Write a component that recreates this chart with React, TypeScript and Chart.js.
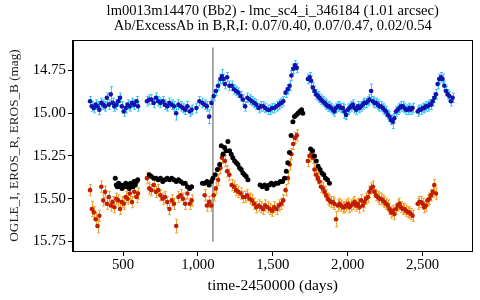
import React, { useEffect, useRef } from "react";
import { Chart, registerables } from "chart.js";

Chart.register(...registerables);

const SERIF = "'Liberation Serif', 'Times New Roman', serif";

const TITLE = [
  "lm0013m14470 (Bb2) - lmc_sc4_i_346184 (1.01 arcsec)",
  "Ab/ExcessAb in B,R,I: 0.07/0.40, 0.07/0.47, 0.02/0.54",
];
const X_TITLE = "time-2450000 (days)";
const Y_TITLE = "OGLE_I, EROS_R, EROS_B (mag)";

const X_MIN = 166;
const X_MAX = 2833;
const Y_MIN = 14.572;
const Y_MAX = 15.806;
const X_TICKS = [500, 1000, 1500, 2000, 2500];
const Y_TICKS = [14.75, 15.0, 15.25, 15.5, 15.75];

// vertical marker line (time, top mag, bottom mag)
const MARK_T = 1100;
const MARK_Y = [14.617, 15.75];

// EROS epochs (shared by B and R)
const erosT = [
  // season 1
  280, 292, 305, 318, 330, 342, 355, 368, 380, 392, 405, 418, 430, 442, 455, 468, 480, 492, 505, 518, 530, 545, 560, 575, 590, 600,
  // season 2
  660, 675, 690, 705, 720, 735, 750, 765, 780, 795, 810, 825, 840, 855, 870, 885, 900, 915, 930, 945, 958,
  // season 3
  990, 1010, 1030, 1045, 1060, 1075, 1090, 1105, 1120, 1135, 1150, 1160, 1170, 1180, 1195, 1210, 1225, 1240, 1255, 1270,
  1285, 1300, 1315, 1330, 1345, 1360, 1375, 1390, 1405, 1420, 1435, 1450, 1465, 1480, 1495, 1510, 1525, 1540, 1555, 1570,
  1585, 1600, 1612, 1624, 1636, 1648, 1660,
  // season 4+
  1734, 1745, 1756, 1767, 1778, 1789, 1800, 1811, 1822, 1833,
  1845, 1856, 1867, 1878, 1889, 1900, 1911, 1922, 1933, 1945,
  1956, 1967, 1978, 1989, 2000, 2011, 2022, 2034, 2045, 2056,
  2067, 2078, 2089, 2100, 2111, 2122, 2134, 2145, 2156, 2167,
  2178, 2189, 2200, 2211, 2222, 2234, 2245, 2256, 2267, 2278,
  2289, 2300, 2311, 2322, 2333, 2345, 2356, 2367, 2378, 2389,
  2400, 2411, 2422, 2433, 2467, 2478, 2489, 2500, 2511, 2522,
  2533, 2545, 2556, 2567, 2578, 2589, 2600, 2611, 2622, 2633,
  2645, 2656, 2667, 2678, 2689, 2700,
];

const erosB = [
  14.93, 14.96, 14.97, 14.95, 14.96, 14.98, 14.94, 14.95, 14.96, 14.91, 14.95, 14.89, 14.94, 14.96, 14.95, 14.93, 14.91, 14.96, 14.99, 14.97, 14.95, 14.96, 14.94, 14.95, 14.93, 14.96,
  14.93, 14.92, 14.92, 14.94, 14.91, 14.93, 14.94, 14.93, 14.95, 14.96, 14.94, 14.95, 14.96, 15.0, 14.95, 14.96, 14.97, 14.98, 14.96, 14.99, 14.98,
  14.97, 14.93, 14.94, 14.95, 14.96, 15.02, 14.94, 14.9, 14.87, 14.84, 14.8, 14.785, 14.8, 14.83, 14.79, 14.84, 14.84, 14.86, 14.87, 14.88,
  14.9, 14.92, 14.96, 14.91, 14.92, 14.93, 14.94, 14.95, 14.97, 14.96, 14.96, 14.97, 14.98, 14.98, 14.97, 14.97, 14.96, 14.95, 14.94, 14.93,
  14.88, 14.86, 14.84, 14.78, 14.74, 14.72, 14.735,
  14.8, 14.79, 14.81, 14.85, 14.87, 14.89, 14.9, 14.91, 14.92, 14.93,
  14.94, 14.95, 14.96, 14.96, 14.97, 14.98, 14.99, 14.97, 14.96, 14.96,
  14.97, 14.97, 14.99, 15.01, 14.98, 14.97, 14.96, 14.95, 14.97, 14.98,
  14.96, 14.97, 14.96, 14.95, 14.94, 14.94, 14.93, 14.92, 14.87, 14.93,
  14.94, 14.94, 14.95, 14.96, 14.96, 14.97, 14.98, 14.99, 15.01, 15.02,
  15.04, 15.05, 15.03, 14.99, 14.98, 14.97, 14.96, 14.96, 14.97, 14.98,
  14.98, 14.97, 14.98, 14.97, 14.99, 14.98, 14.98, 14.97, 14.97, 14.96,
  14.96, 14.95, 14.95, 14.93, 14.91, 14.89, 14.83, 14.8, 14.79, 14.8,
  14.84, 14.87, 14.89, 14.9, 14.93, 14.91,
];

const erosR = [
  15.45, 15.56, 15.58, 15.62, 15.66, 15.6, 15.43, 15.51, 15.46, 15.53, 15.49, 15.54, 15.52, 15.55, 15.5, 15.51, 15.56, 15.52, 15.53, 15.49, 15.5, 15.47, 15.52, 15.46, 15.49, 15.47,
  15.38, 15.44, 15.45, 15.42, 15.46, 15.45, 15.48, 15.5, 15.49, 15.52, 15.56, 15.51, 15.53, 15.66, 15.49, 15.48, 15.5, 15.53, 15.47, 15.53, 15.51,
  null, null, null, 15.48, 15.54, 15.52, 15.54, 15.48, 15.44, 15.39, 15.32, 15.26, 15.24, 15.28, 15.34, 15.36, 15.42, 15.43, 15.45, 15.46,
  15.47, 15.49, 15.49, 15.48, 15.5, 15.51, 15.53, 15.55, 15.54, 15.55, 15.56, 15.54, 15.55, 15.56, 15.57, 15.55, 15.56, 15.54, 15.53, 15.51,
  15.45, 15.38, 15.3, 15.24, 15.18, 15.145, 15.13,
  15.28, 15.25, 15.24, 15.26, 15.33, 15.36, 15.38, 15.4, 15.43, 15.44,
  15.46, 15.48, 15.5, 15.51, 15.52, 15.52, 15.53, 15.62, 15.54, 15.53,
  15.54, 15.55, 15.55, 15.54, 15.53, 15.55, 15.54, 15.53, 15.52, 15.54,
  15.53, 15.55, 15.51, 15.54, 15.52, 15.5, 15.49, 15.46, 15.44, 15.43,
  15.46, 15.48, 15.49, 15.5, 15.5, 15.51, 15.52, 15.53, 15.54, 15.56,
  15.58, 15.57, 15.59, 15.56, 15.54, 15.53, 15.55, 15.56, 15.56, 15.57,
  15.58, 15.58, 15.59, 15.6, 15.53, 15.52, 15.52, 15.53, 15.55, 15.54,
  15.51, 15.5, 15.48, 15.46, 15.42, 15.47, null, null, null, null,
  null, null, null, null, null, null,
];

// typical photometric errors, and a few visibly larger ones [time, err]
const B_ERR = 0.028;
const R_ERR = 0.033;
const B_ERR_WIDE = [[418, 0.045], [855, 0.04], [1075, 0.04], [2156, 0.04], [2300, 0.04], [1978, 0.04], [1160, 0.04]];
const R_ERR_WIDE = [[330, 0.04], [855, 0.04], [1922, 0.045], [292, 0.045], [318, 0.04]];

// OGLE I epochs and magnitudes
const ogleT = [
  448, 455, 462, 470, 478, 486, 494, 502, 510, 518, 526, 534, 542, 550, 558, 566, 574, 582, 590, 598,
  675, 690, 705, 720, 735, 750, 765, 780, 795, 810, 825, 840, 855, 870, 885, 900, 915, 930, 945, 958,
  1030, 1045, 1060, 1075, 1090, 1100, 1115, 1130, 1145, 1156,
  1167, 1178, 1189, 1200, 1211, 1222, 1233, 1245, 1256, 1267,
  1278, 1289, 1300, 1311, 1322, 1334, 1415, 1430, 1445, 1460,
  1475, 1490, 1505, 1520, 1535, 1550, 1565, 1578, 1590, 1600,
  1611, 1622, 1634, 1645, 1656, 1668, 1680, 1692, 1700,
  1752, 1765, 1778, 1790, 1802, 1815, 1828, 1840, 1852, 1865, 1878,
];
const ogleI = [
  15.38, 15.42, 15.43, 15.41, 15.43, 15.42, 15.44, 15.43, 15.42, 15.41, 15.43, 15.42, 15.44, 15.41, 15.42, 15.43, 15.4, 15.42, 15.4, 15.39,
  15.36, 15.37, 15.38, 15.38, 15.39, 15.38, 15.4, 15.39, 15.38, 15.39, 15.38, 15.39, 15.4, 15.39, 15.4, 15.41, 15.41, 15.43, 15.44, 15.43,
  15.41, 15.41, 15.4, 15.42, 15.4, 15.38, 15.36, 15.33, 15.3, 15.19,
  15.24, 15.2, 15.22, 15.165, 15.22, 15.24, 15.26, 15.28, 15.29, 15.3,
  15.32, 15.33, 15.35, 15.36, 15.37, 15.39, 15.42, 15.43, 15.42, 15.44,
  15.42, 15.41, 15.42, 15.41, 15.41, 15.4, 15.4, 15.38, 15.34, 15.29,
  15.23, 15.13, 15.05, 15.02, 15.01, 15.0, 14.99, 14.98, 15.0,
  15.21, 15.22, 15.25, 15.28, 15.31, 15.33, 15.35, 15.36, 15.38, 15.39, 15.41,
];

const COLORS = {
  bDot: "#1212b0",
  bErr: "#3cc8f5",
  rDot: "#c01e00",
  rErr: "#f5a42c",
  iDot: "#000000",
  mark: "#9a9a9a",
};

function buildPoints(ts: number[], ms: (number | null)[], err: number, wide: number[][]) {
  const pts: { x: number; y: number; e: number }[] = [];
  ts.forEach((t, i) => {
    const m = ms[i];
    if (m === null || m === undefined) return;
    const w = wide.find((p) => p[0] === t);
    pts.push({ x: t, y: m, e: w ? w[1] : err });
  });
  return pts;
}

const errorBarPlugin = {
  id: "errorBars",
  beforeDatasetsDraw(chart: any, _args: any, opts: any) {
    const ctx = chart.ctx;
    const xs = chart.scales.x;
    const ys = chart.scales.y;
    const colors: Record<string, string> = opts.colors || {};
    chart.data.datasets.forEach((ds: any) => {
      const col = colors[ds.label];
      if (!col) return;
      ctx.save();
      ctx.strokeStyle = col;
      ctx.lineWidth = 1;
      ctx.beginPath();
      ds.data.forEach((p: any) => {
        const x = Math.round(xs.getPixelForValue(p.x)) + 0.5;
        const y1 = ys.getPixelForValue(p.y - p.e);
        const y2 = ys.getPixelForValue(p.y + p.e);
        ctx.moveTo(x, y1);
        ctx.lineTo(x, y2);
        ctx.moveTo(x - 1.5, y1);
        ctx.lineTo(x + 1.5, y1);
        ctx.moveTo(x - 1.5, y2);
        ctx.lineTo(x + 1.5, y2);
      });
      ctx.stroke();
      ctx.restore();
    });
  },
};

const framePlugin = {
  id: "frame",
  afterDatasetsDraw(chart: any) {
    const { ctx, chartArea } = chart;
    ctx.save();
    ctx.strokeStyle = "#000";
    ctx.lineWidth = 1;
    ctx.strokeRect(
      Math.round(chartArea.left) - 0.5,
      Math.round(chartArea.top) + 0.5,
      Math.round(chartArea.right) - Math.round(chartArea.left),
      Math.round(chartArea.bottom) - Math.round(chartArea.top)
    );
    ctx.restore();
  },
};

// title centred over the plotting area
const plotTitlePlugin = {
  id: "plotTitle",
  afterDraw(chart: any, _args: any, opts: any) {
    const { ctx, chartArea } = chart;
    const cx = (chartArea.left + chartArea.right) / 2;
    ctx.save();
    ctx.fillStyle = "#000";
    ctx.font = `${opts.size}px ${SERIF}`;
    ctx.textAlign = "center";
    ctx.textBaseline = "middle";
    (opts.lines as string[]).forEach((line, i) => {
      ctx.fillText(line, cx, opts.y0 + i * opts.step);
    });
    ctx.restore();
  },
};

export default function App() {
  const ref = useRef<HTMLCanvasElement | null>(null);

  useEffect(() => {
    document.body.style.margin = "0";
    const canvas = ref.current;
    if (!canvas) return;

    const bPts = buildPoints(erosT, erosB, B_ERR, B_ERR_WIDE);
    const rPts = buildPoints(erosT, erosR, R_ERR, R_ERR_WIDE);
    const iPts = ogleT.map((t, i) => ({ x: t, y: ogleI[i] }));

    const tickFont = { family: SERIF, size: 14.8 };

    const chart = new Chart(canvas, {
      type: "scatter",
      data: {
        datasets: [
          {
            label: "OGLE_I",
            data: iPts,
            pointRadius: 2.5,
            pointBackgroundColor: COLORS.iDot,
            pointBorderWidth: 0,
          },
          {
            label: "EROS_B",
            data: bPts,
            pointRadius: 2.3,
            pointBackgroundColor: COLORS.bDot,
            pointBorderWidth: 0,
          },
          {
            label: "EROS_R",
            data: rPts,
            pointRadius: 2.3,
            pointBackgroundColor: COLORS.rDot,
            pointBorderWidth: 0,
          },
          {
            label: "mark",
            data: [
              { x: MARK_T, y: MARK_Y[0] },
              { x: MARK_T, y: MARK_Y[1] },
            ],
            showLine: true,
            borderColor: COLORS.mark,
            borderWidth: 1,
            pointRadius: 0,
          },
        ],
      } as any,
      options: {
        animation: false,
        responsive: false,
        devicePixelRatio: 1,
        events: [],
        layout: { padding: { left: 0, right: 7.5, top: 40, bottom: 0 } },
        plugins: {
          legend: { display: false },
          tooltip: { enabled: false },
          title: { display: false },
          plotTitle: { lines: TITLE, size: 14.6, y0: 10.8, step: 15.5 },
          errorBars: { colors: { EROS_B: COLORS.bErr, EROS_R: COLORS.rErr } },
        } as any,
        scales: {
          x: {
            type: "linear",
            min: X_MIN,
            max: X_MAX,
            afterBuildTicks: (s: any) => {
              s.ticks = X_TICKS.map((v) => ({ value: v }));
            },
            afterFit: (s: any) => {
              s.height = 49;
            },
            ticks: {
              color: "#000",
              font: tickFont,
              padding: 0,
              maxRotation: 0,
              autoSkip: false,
              callback: (v: any) => Number(v).toLocaleString("en-US"),
            },
            grid: { display: true, drawOnChartArea: false, drawTicks: true, tickLength: 5, color: "#000" },
            border: { display: true, color: "#000", width: 1 },
            title: {
              display: true,
              text: X_TITLE,
              color: "#000",
              font: { family: SERIF, size: 15.6 },
              padding: { top: 0, bottom: 5 },
            },
          },
          y: {
            type: "linear",
            reverse: true,
            min: Y_MIN,
            max: Y_MAX,
            afterBuildTicks: (s: any) => {
              s.ticks = Y_TICKS.map((v) => ({ value: v }));
            },
            afterFit: (s: any) => {
              s.width = 73;
            },
            ticks: {
              color: "#000",
              font: tickFont,
              padding: 2,
              autoSkip: false,
              callback: (v: any) => Number(v).toFixed(2),
            },
            grid: { display: true, drawOnChartArea: false, drawTicks: true, tickLength: 5, color: "#000" },
            border: { display: true, color: "#000", width: 1 },
            title: {
              display: true,
              text: Y_TITLE,
              color: "#222",
              font: { family: SERIF, size: 13.2 },
              padding: { top: 7, bottom: 0 },
            },
          },
        },
      } as any,
      plugins: [errorBarPlugin, framePlugin, plotTitlePlugin],
    });

    return () => chart.destroy();
  }, []);

  return (
    <div style={{ position: "fixed", left: 0, top: 0, width: 480, height: 300, background: "#fff" }}>
      <canvas ref={ref} width={480} height={300} style={{ display: "block", width: 480, height: 300 }} />
    </div>
  );
}
